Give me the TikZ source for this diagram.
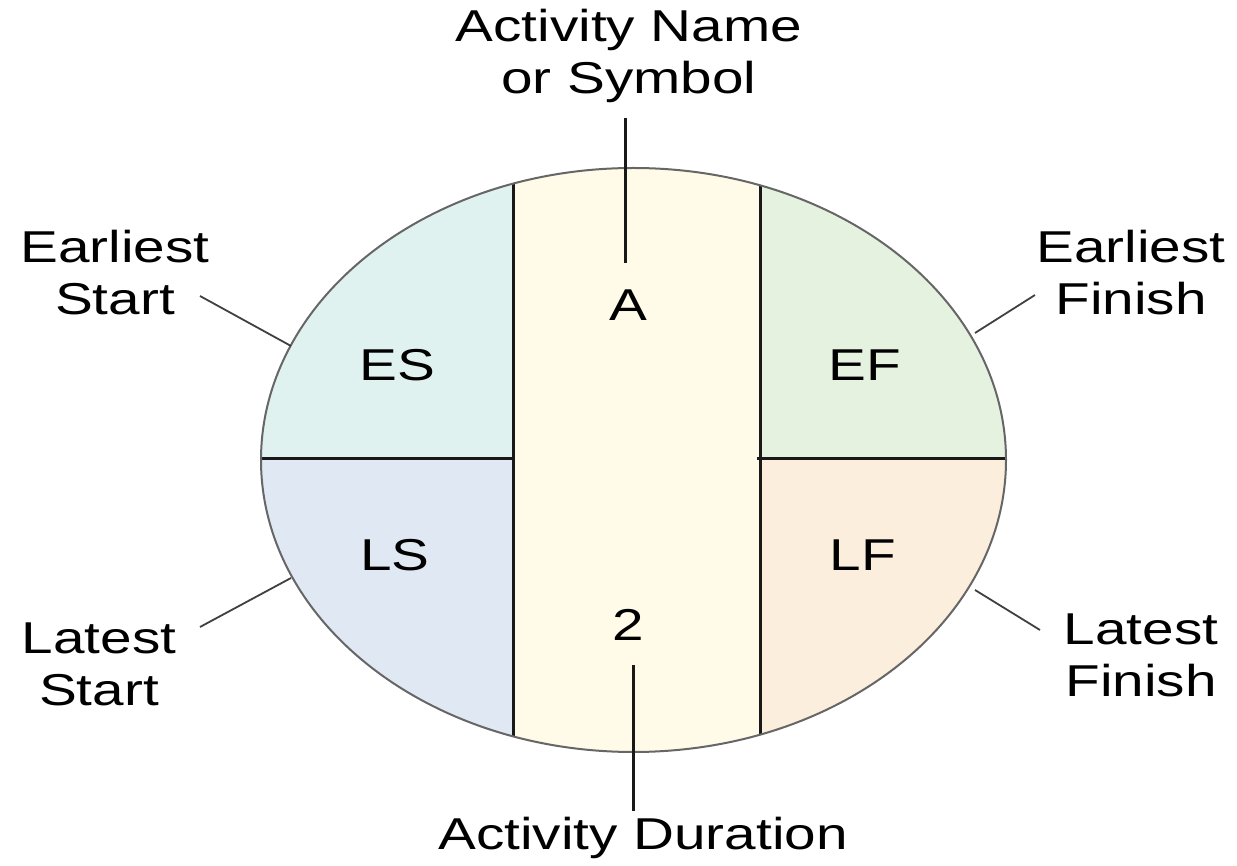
\documentclass[tikz,border=0pt]{standalone}
\usepackage{fontspec}
\setmainfont{Liberation Sans}[FakeStretch=1.27]
\definecolor{esfill}{RGB}{224,242,240}
\definecolor{effill}{RGB}{230,242,224}
\definecolor{lsfill}{RGB}{224,232,244}
\definecolor{lffill}{RGB}{252,238,220}
\definecolor{midfill}{RGB}{255,251,232}
\tikzset{
  lbl/.style={align=center, inner sep=0pt},
  divider/.style={line width=0.3mm, black!90},
  leader/.style={line width=0.18mm, black!75}
}
\begin{document}
\begin{tikzpicture}[x=0.1mm,y=-0.1mm,font=\fontsize{12.7}{14.8}\selectfont]
            \useasboundingbox (0,0) rectangle (1237,866);
            % fields of the ellipse
            \begin{scope}
                \clip (633.5,460) ellipse [x radius=37.25mm, y radius=29.2mm];
                \fill[midfill] (513,100) rectangle (760,800);
                \fill[esfill] (250,100) rectangle (513,459);
                \fill[effill] (760,100) rectangle (1020,459);
                \fill[lsfill] (250,459) rectangle (513,800);
                \fill[lffill] (760,459) rectangle (1020,800);
                \draw[divider] (513,100) -- (513,800);
                \draw[divider] (760,100) -- (760,800);
                \draw[divider] (250,459) -- (513,459);
                \draw[divider] (757,459) -- (1020,459);
            \end{scope}
            \draw[line width=0.2mm, black!60] (633.5,460) ellipse [x radius=37.25mm, y radius=29.2mm];
            % inside texts
            \node[lbl] (name) at (628,305) {A};
            \node[lbl] (es) at (397,365) {ES};
            \node[lbl] (ef) at (865,365) {EF};
            \node[lbl] (ls) at (395,555) {LS};
            \node[lbl] (lf) at (863,555) {LF};
            \node[lbl] (dur) at (628,625) {2};
            % outside texts
            \node[lbl] (nametxt) at (629,56) {Activity Name\\or Symbol};
            \node[lbl] (estxt) at (115,273) {Earliest\\Start};
            \node[lbl] (eftxt) at (1131,273) {Earliest\\Finish};
            \node[lbl] (lstxt) at (99,664) {Latest\\Start};
            \node[lbl] (lftxt) at (1141,655) {Latest\\Finish};
            \node[lbl] (durtxt) at (643,838) {Activity Duration};
            % leaders
            \coordinate (nametop) at (625,118);
            \coordinate (namebot) at (625,263);
            \coordinate (durtop) at (633,665);
            \coordinate (durbot) at (633,811);
            \coordinate (esa) at (200,296);
            \coordinate (esb) at (291,346);
            \coordinate (efa) at (1035,295);
            \coordinate (efb) at (975,333);
            \coordinate (lsa) at (200,627);
            \coordinate (lsb) at (291,578);
            \coordinate (lfa) at (1040,630);
            \coordinate (lfb) at (975,590);
            \draw[divider] (nametop) -- (namebot);
            \draw[divider] (durtop) -- (durbot);
            \draw[leader] (esa) -- (esb);
            \draw[leader] (efa) -- (efb);
            \draw[leader] (lsa) -- (lsb);
            \draw[leader] (lfa) -- (lfb);
        \end{tikzpicture}
\end{document}
